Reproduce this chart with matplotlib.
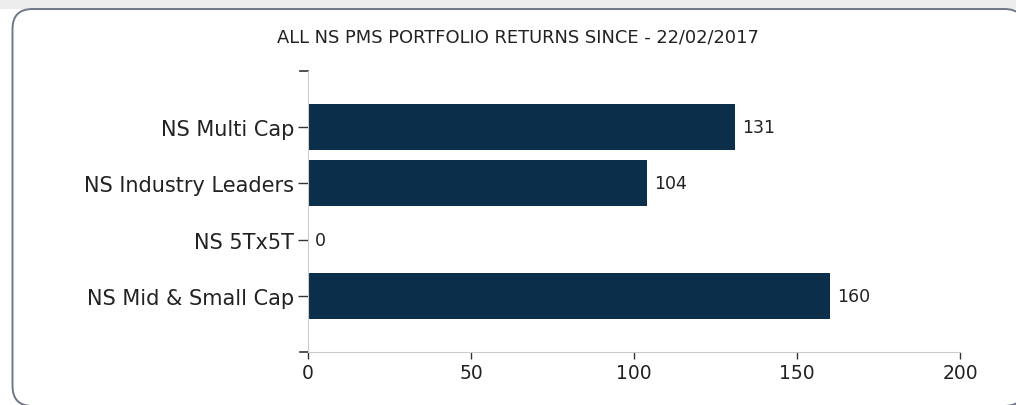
import matplotlib
matplotlib.use("Agg")
import matplotlib.pyplot as plt
from matplotlib.patches import FancyBboxPatch, Rectangle

plt.rcParams['font.family'] = ['DejaVu Sans']

# data
portfolios = ["NS Multi Cap", "NS Industry Leaders", "NS 5Tx5T", "NS Mid & Small Cap"]
returns = [131, 104, 0, 160]
x_ticks = [0, 50, 100, 150, 200]
title = "ALL NS PMS PORTFOLIO RETURNS SINCE - 22/02/2017"

bar_color = "#0b2e4a"
axis_gray = "#cccccc"
text_color = "#222222"

fig = plt.figure(figsize=(10.16, 4.06), dpi=100)

# light shadow strip above the card
fig.patches.append(Rectangle((0, 3.96), 10.16, 0.1, transform=fig.dpi_scale_trans,
                             facecolor="#ededed", edgecolor="none", zorder=-6))

# rounded card border (in inches)
card = FancyBboxPatch((0.125, -0.01), 10.12, 3.97,
                      boxstyle="round,pad=0,rounding_size=0.2",
                      transform=fig.dpi_scale_trans, facecolor="white",
                      edgecolor="#6f7688", linewidth=1.4, zorder=-5)
fig.patches.append(card)

ax = fig.add_axes([308 / 1016, 1 - 353 / 406, (960 - 308) / 1016, (353 - 72) / 406])
ax.set_facecolor("none")

pos = list(range(len(portfolios)))
ax.barh(pos, returns, height=0.82, color=bar_color)
for p, v in zip(pos, returns):
    ax.text(v + 2.2, p, str(v), va="center", ha="left", fontsize=12.5, color=text_color)

ax.set_ylim(len(portfolios), -1)
ax.set_xlim(0, 200)
ax.set_yticks(pos)
ax.set_yticklabels(portfolios, fontsize=15, color=text_color)
ax.set_xticks(x_ticks)
ax.set_xticklabels([str(t) for t in x_ticks], fontsize=13.5, color=text_color)

for s in ["top", "right"]:
    ax.spines[s].set_visible(False)
ax.spines["left"].set_color(axis_gray)
ax.spines["bottom"].set_color(axis_gray)
ax.tick_params(axis="y", length=7, width=1, color="#333333", pad=3)
ax.tick_params(axis="x", length=5, width=1, color="#333333", pad=3)

# outer domain ticks at both ends of the y axis
for yf in [0, 1]:
    ax.plot([-0.012, 0], [yf, yf], transform=ax.transAxes, color="#333333",
            linewidth=1.2, clip_on=False)

fig.text(518 / 1016, 1 - 37 / 406, title, ha="center", va="center",
         fontsize=12.9, color=text_color)

fig.savefig("out.png", dpi=100)
